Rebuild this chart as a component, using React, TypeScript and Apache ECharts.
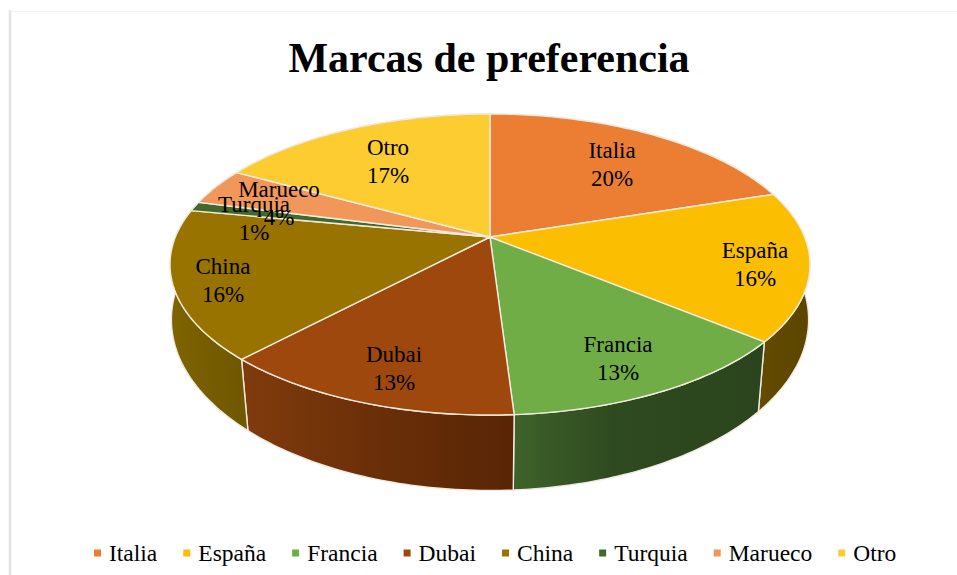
import React, { useEffect, useRef } from "react";
import * as echarts from "echarts";

const chartTitle = "Marcas de preferencia";
const categories = ["Italia", "España", "Francia", "Dubai", "China", "Turquia", "Marueco", "Otro"];
const shares = [20, 16, 13, 13, 16, 1, 4, 17];

const topColors = ["#EC7E33", "#FBBE01", "#70AD47", "#9E480E", "#997300", "#43682B", "#F1975A", "#FCCC30"];
const wallLight = ["#8f4a1c", "#634b00", "#3f622a", "#813b0c", "#7f6400", "#2b441d", "#8f5a35", "#97791c"];
const wallMid = ["#85441a", "#604800", "#2e4a20", "#6e3109", "#785e00", "#273f1a", "#85532f", "#8c701a"];
const wallDark = ["#7a3f18", "#5c4600", "#2b441d", "#582505", "#6f5600", "#243a18", "#7a4d2d", "#806718"];

const SERIF = '"Liberation Serif", "Times New Roman", serif';
const EDGE = "#f0ebe0";

// Perspective projection of the pie's circular top and bottom rims.
const topRim = { cx: 490, cy: 237, a: 314.6, b: 145.5, k: 0.1827 };
const bottomRim = { cx: 490, cy: 294, a: 315, b: 167, k: 0.15 };
// Centre of each two-line label, as Excel placed them.
const labelCentres = [
  [612, 164], [755, 264], [618, 358], [394, 368],
  [223, 280], [254, 218], [279, 203], [388, 161],
];

const total = shares.reduce((s, v) => s + v, 0);
const startTurn = (i: number) => shares.slice(0, i).reduce((s, v) => s + v, 0) / total;

function project(rim: typeof topRim, theta: number, r = 1): number[] {
  const u = r * Math.sin(theta);
  const v = r * Math.cos(theta);
  const w = 1 + rim.k * v;
  return [rim.cx + (rim.a * u) / w, rim.cy - (rim.b * v) / w];
}

function arc(rim: typeof topRim, i: number): number[][] {
  const from = startTurn(i) * 2 * Math.PI;
  const to = startTurn(i + 1) * 2 * Math.PI;
  const n = Math.max(4, Math.ceil(((to - from) * 180) / Math.PI));
  const pts: number[][] = [];
  for (let j = 0; j <= n; j++) pts.push(project(rim, from + ((to - from) * j) / n));
  return pts;
}

export default function App() {
  const ref = useRef<HTMLDivElement>(null);
  useEffect(() => {
    document.body.style.margin = "0";
    document.body.style.background = "#fff";
    const chart = echarts.init(ref.current!, undefined, { renderer: "svg" });

    const wallSeries = {
      type: "custom",
      name: "walls",
      coordinateSystem: "none",
      silent: true,
      z: 1,
      data: shares.map((v, i) => [i, v]),
      renderItem: (_p: any, api: any) => {
        const i = api.value(0);
        const points = [...arc(topRim, i), ...arc(bottomRim, i).reverse()];
        return {
          type: "polygon",
          shape: { points },
          style: {
            fill: new echarts.graphic.LinearGradient(0, 0, 1, 0, [
              { offset: 0, color: wallLight[i] },
              { offset: 0.4, color: wallMid[i] },
              { offset: 1, color: wallDark[i] },
            ]),
            stroke: EDGE,
            lineWidth: 1.4,
          },
        };
      },
    };

    const sliceSeries = categories.map((name, idx) => ({
      type: "custom",
      name,
      coordinateSystem: "none",
      silent: true,
      z: 2,
      itemStyle: { color: topColors[idx] },
      data: [[idx, shares[idx]]],
      renderItem: (_p: any, api: any) => {
        const i = api.value(0);
        return {
          type: "polygon",
          shape: { points: [[topRim.cx, topRim.cy], ...arc(topRim, i)] },
          style: { fill: topColors[i], stroke: EDGE, lineWidth: 1.4, lineJoin: "round" },
        };
      },
    }));

    const labelSeries = {
      type: "custom",
      name: "labels",
      coordinateSystem: "none",
      silent: true,
      z: 3,
      data: shares.map((v, i) => [i, v]),
      renderItem: (_p: any, api: any) => {
        const i = api.value(0);
        return {
          type: "text",
          x: labelCentres[i][0],
          y: labelCentres[i][1],
          style: {
            text: `${categories[i]}\n${api.value(1)}%`,
            font: `23px ${SERIF}`,
            lineHeight: 28,
            fill: "#000",
            align: "center",
            verticalAlign: "middle",
          },
        };
      },
    };

    chart.setOption({
      animation: false,
      backgroundColor: "#fff",
      title: {
        text: chartTitle,
        left: 484,
        top: 32,
        textAlign: "center",
        textStyle: { fontFamily: SERIF, fontSize: 42, fontWeight: "bold", color: "#000" },
      },
      legend: {
        data: categories,
        left: 89,
        top: 536,
        icon: "rect",
        itemWidth: 7,
        itemHeight: 7,
        itemGap: 26,
        selectedMode: false,
        padding: 5,
        textStyle: { fontFamily: SERIF, fontSize: 23.5, color: "#000", padding: [0, 0, 0, 3] },
      },
      graphic: [
        { type: "line", shape: { x1: 10, y1: 10, x2: 10, y2: 575 }, style: { stroke: "#e2e2e2", lineWidth: 2.5 }, silent: true },
        { type: "line", shape: { x1: 10, y1: 11.5, x2: 957, y2: 11.5 }, style: { stroke: "#f1f1f1", lineWidth: 1 }, silent: true },
      ],
      series: [wallSeries, ...sliceSeries, labelSeries],
    });
    return () => chart.dispose();
  }, []);
  return <div ref={ref} style={{ position: "absolute", left: 0, top: 0, width: 957, height: 575 }} />;
}
